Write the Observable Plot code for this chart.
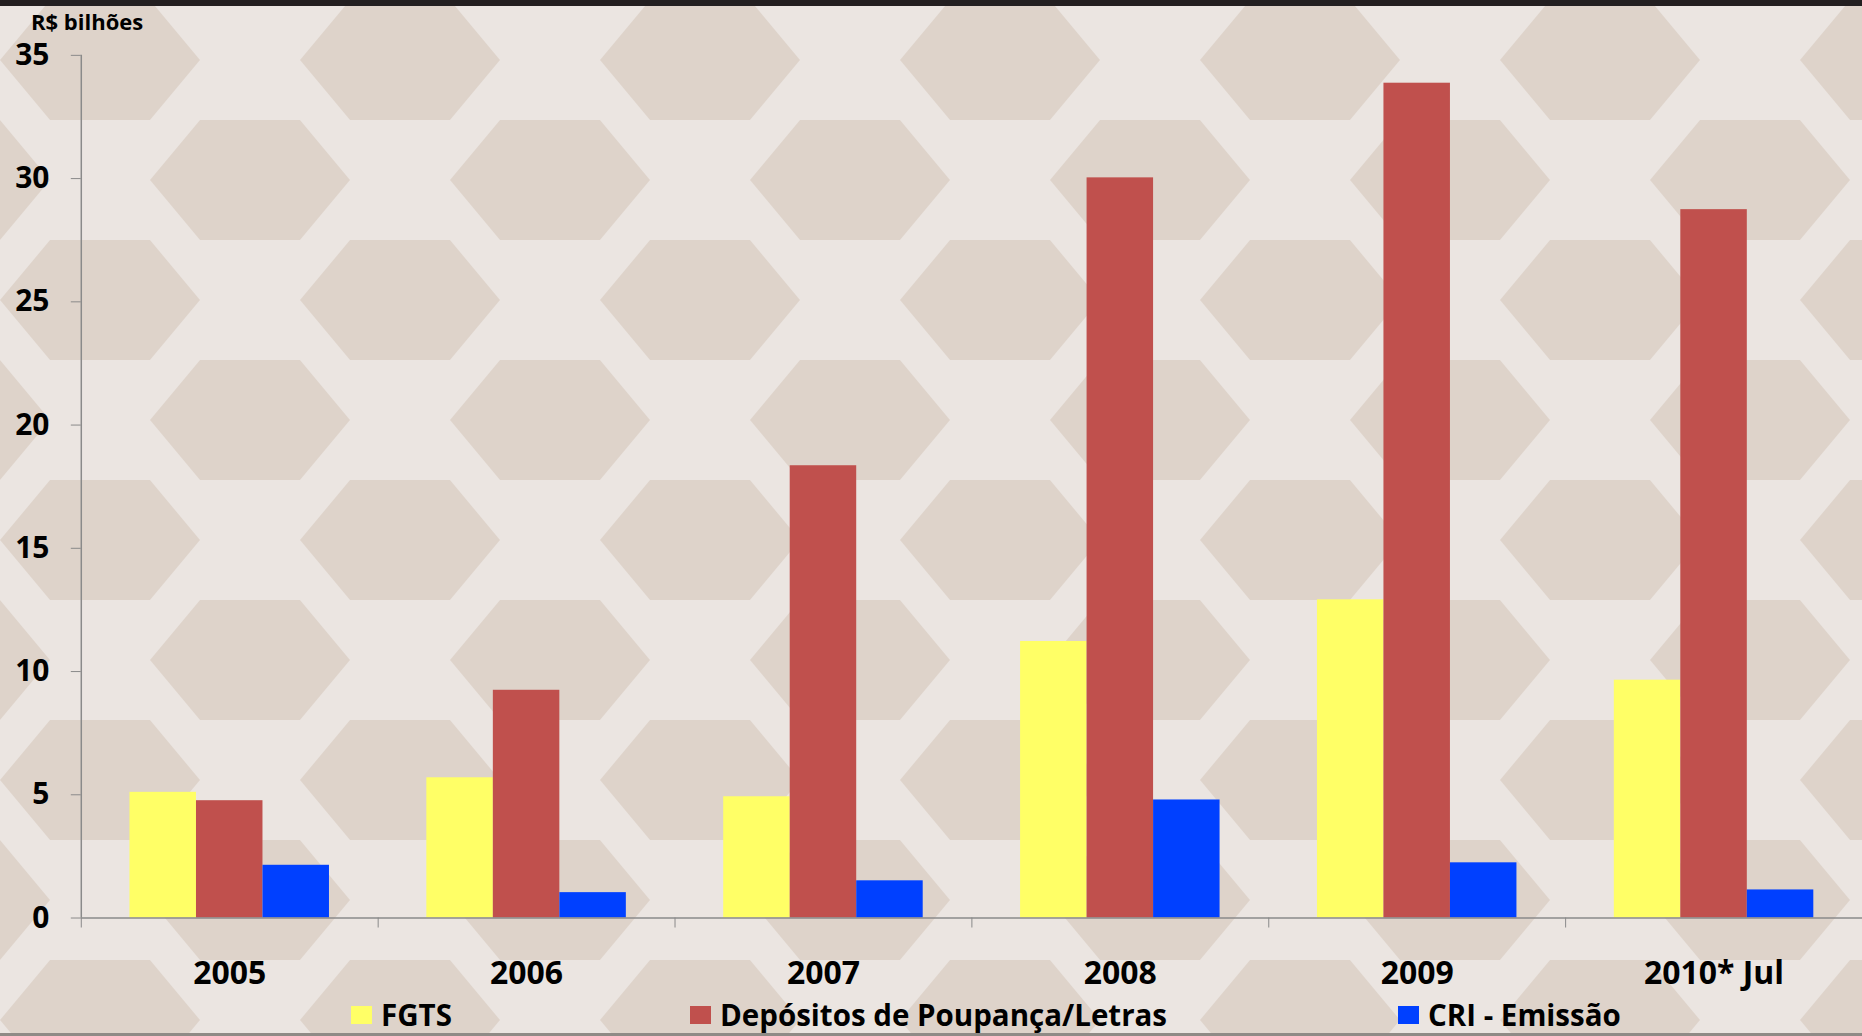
<!DOCTYPE html>
<html>
<head>
<meta charset="utf-8">
<script src="https://cdn.jsdelivr.net/npm/d3@7"></script>
<script src="https://cdn.jsdelivr.net/npm/@observablehq/plot@0.6"></script>
<style>
  html, body { margin: 0; padding: 0; }
  body { width: 1862px; height: 1036px; overflow: hidden; }
  #wrap {
    position: relative; width: 1862px; height: 1036px; overflow: hidden;
    background-color: #e9e2dd;
    font-family: "Open Sans", sans-serif; font-weight: 700; color: #000;
  }
  #topbar { position: absolute; left: 0; top: 0; width: 1862px; height: 6px; background: #231f20; z-index: 3; }
  #bottomline { position: absolute; left: 0; top: 1033px; width: 1862px; height: 3px; background: #8f8a86; z-index: 3; }
  #unit { position: absolute; left: 31px; top: 6px; font-size: 22px; line-height: 30px; z-index: 2; }
  #chart { position: absolute; left: 0; top: 0; z-index: 1; }
  #legend { position: absolute; left: 0; top: 998px; width: 1862px; height: 34px; z-index: 2; }
  .item { position: absolute; top: 0; display: flex; align-items: center; height: 34px; font-size: 29.5px; line-height: 1; white-space: nowrap; }
  .sw { width: 21px; height: 18px; margin-right: 9px; }
</style>
</head>
<body>
<div id="wrap">
  <div id="topbar"></div>
  <div id="unit">R$ bilhões</div>
  <div id="chart"></div>
  <div id="legend"></div>
  <div id="bottomline"></div>
</div>
<script>
// ---- data ----
const years = ["2005", "2006", "2007", "2008", "2009", "2010* Jul"];
const seriesNames = ["FGTS", "Depósitos de Poupança/Letras", "CRI - Emissão"];
const fgts     = [5.10, 5.69, 4.92, 11.22, 12.91, 9.65];
const poupanca = [4.76, 9.24, 18.35, 30.03, 33.87, 28.74];
const cri      = [2.14, 1.03, 1.51, 4.79, 2.24, 1.14];
const yTicks   = [0, 5, 10, 15, 20, 25, 30, 35];
const colors   = ["#ffff66", "#c0504d", "#0040ff"];

// ---- background pattern (decorative) ----
const tile = `<svg xmlns='http://www.w3.org/2000/svg' width='300' height='240'>
<rect width='300' height='240' fill='#ebe5e1'/>
<g fill='#dbcfc5' opacity='0.8'>
<polygon points='0,60 50,0 150,0 200,60 150,120 50,120'/>
<polygon points='150,180 200,120 300,120 350,180 300,240 200,240'/>
<polygon points='-150,180 -100,120 0,120 50,180 0,240 -100,240'/>
</g></svg>`;
document.getElementById("wrap").style.backgroundImage =
  `url("data:image/svg+xml;utf8,${encodeURIComponent(tile)}")`;

// ---- rows ----
const valuesBySeries = [fgts, poupanca, cri];
const groupPad = 0.164, barW = 0.224;
const rows = [];
valuesBySeries.forEach((vals, s) => {
  vals.forEach((v, i) => {
    const x1 = i + groupPad + s * barW;
    rows.push({series: seriesNames[s], year: years[i], x1, x2: x1 + barW, value: v});
  });
});

const gray = "#8a8a8a";
const chart = Plot.plot({
  width: 1867, height: 1000,
  marginLeft: 81, marginRight: 0, marginTop: 55, marginBottom: 80,
  style: {background: "transparent", fontFamily: "'Open Sans', sans-serif", fontWeight: 700, color: "#000", overflow: "visible"},
  x: {domain: [0, years.length]},
  y: {domain: [0, 35]},
  color: {domain: seriesNames, range: colors},
  marks: [
    Plot.rectY(rows, {x1: "x1", x2: "x2", y: "value", fill: "series"}),
    Plot.ruleX([0], {y1: 0, y2: 35, stroke: gray, strokeWidth: 1.5}),
    Plot.ruleY([0], {stroke: gray, strokeWidth: 1.5}),
    Plot.axisY({ticks: yTicks, tickSize: 10, tickPadding: 22, fontSize: 30, label: null, stroke: gray, fill: "#000"}),
    Plot.axisX({ticks: d3.range(0, years.length + 1), tickSize: 10, tickFormat: () => "", label: null, stroke: gray}),
    Plot.axisX({ticks: years.map((d, i) => i + 0.5), tickSize: 0, tickPadding: 43, fontSize: 32,
      tickFormat: d => years[Math.floor(d)], label: null, fill: "#000"})
  ]
});
document.getElementById("chart").appendChild(chart);

// ---- legend ----
const legendLeft = [351, 690, 1398];
const legend = document.getElementById("legend");
seriesNames.forEach((name, s) => {
  const it = document.createElement("div");
  it.className = "item";
  it.style.left = legendLeft[s] + "px";
  it.innerHTML = `<span class="sw" style="background:${colors[s]}"></span><span>${name}</span>`;
  legend.appendChild(it);
});
</script>
</body>
</html>
